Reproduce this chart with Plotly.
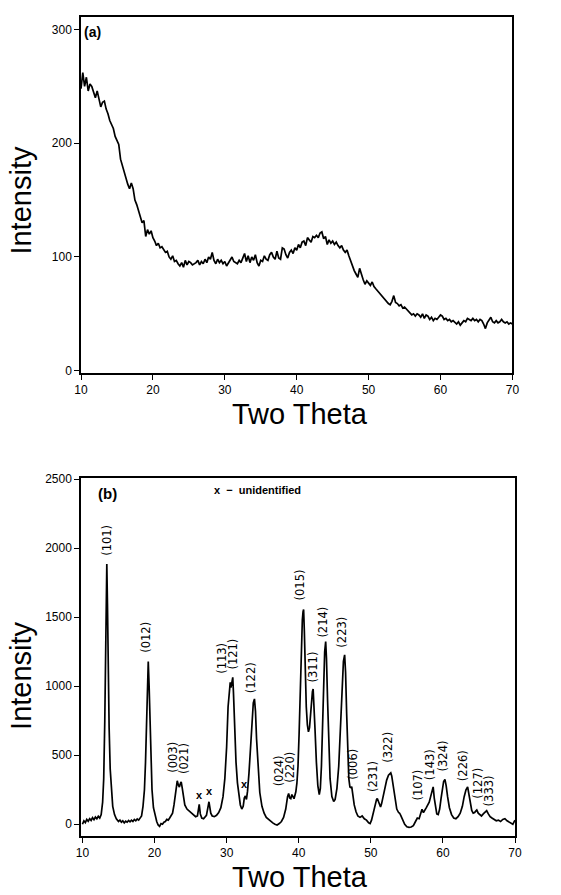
import plotly.graph_objects as go

# ---------------- Panel (a): amorphous sample ----------------
a_start = 10.0
a_step = 0.25
a_intensity = [
    248, 262, 250, 258,   # 10
    246, 252, 250, 244,   # 11
    240, 246, 238, 232,   # 12
    236, 237, 230, 226,   # 13
    220, 216, 213, 206,   # 14
    203, 199, 186, 180,   # 15
    174, 170, 164, 160,   # 16
    165, 160, 150, 146,   # 17
    140, 136, 130, 132,   # 18
    118, 124, 120, 123,   # 19
    117, 114, 110, 112,   # 20
    108, 109, 106, 104,   # 21
    105, 100, 98, 101,    # 22
    96, 97, 94, 92,       # 23
    95, 91, 97, 93,       # 24
    96, 95, 93, 94,       # 25
    95, 97, 93, 96,       # 26
    94, 98, 95, 100,      # 27
    98, 104, 97, 94,      # 28
    98, 95, 97, 94,       # 29
    96, 92, 95, 97,       # 30
    100, 96, 95, 94,      # 31
    97, 95, 99, 103,      # 32
    96, 101, 95, 100,     # 33
    97, 102, 95, 92,      # 34
    97, 96, 101, 98,      # 35
    97, 102, 104, 100,    # 36
    98, 105, 99, 98,      # 37
    108, 107, 102, 99,    # 38
    104, 106, 103, 108,   # 39
    106, 111, 108, 113,   # 40
    114, 110, 117, 115,   # 41
    113, 118, 117, 119,   # 42
    117, 121, 122, 116,   # 43
    118, 111, 115, 112,   # 44
    114, 111, 113, 110,   # 45
    108, 110, 106, 104,   # 46
    106, 101, 96, 92,     # 47
    88, 85, 82, 90,       # 48
    84, 80, 76, 79,       # 49
    77, 75, 78, 74,       # 50
    72, 70, 68, 67,       # 51
    65, 63, 61, 59,       # 52
    58, 61, 66, 60,       # 53
    59, 57, 58, 55,       # 54
    56, 54, 52, 51,       # 55
    49, 50, 48, 50,       # 56
    49, 47, 50, 46,       # 57
    49, 48, 45, 47,       # 58
    44, 46, 45, 47,       # 59
    49, 48, 45, 46,       # 60
    44, 45, 43, 44,       # 61
    42, 41, 43, 40,       # 62
    42, 44, 43, 46,       # 63
    45, 44, 46, 44,       # 64
    45, 43, 45, 44,       # 65
    41, 37, 42, 44,       # 66
    47, 43, 42, 44,       # 67
    42, 43, 45, 43,       # 68
    42, 43, 41, 42,       # 69
    41,                   # 70
]
a_theta = [a_start + a_step * i for i in range(len(a_intensity))]

# ---------------- Panel (b): crystalline sample ----------------
b_theta = [
    10.0, 10.2, 10.4, 10.6, 10.8, 11.0, 11.2, 11.4, 11.6, 11.8, 12.0, 12.2, 12.4, 12.6,
    12.8, 12.95, 13.1, 13.2, 13.3, 13.38, 13.47, 13.58, 13.7, 13.85, 14.0, 14.2, 14.45,
    14.7, 15.0, 15.2, 15.4, 15.6, 15.8, 16.0, 16.2, 16.4, 16.6, 16.8, 17.0, 17.2, 17.4, 17.6, 17.8, 18.0, 18.2,
    18.4, 18.6, 18.75, 18.9, 19.0, 19.13, 19.25, 19.38, 19.5, 19.65, 19.85, 20.1,
    20.3, 20.5, 20.7, 20.9, 21.1, 21.3, 21.5, 21.7, 21.9, 22.1, 22.3,
    22.5, 22.7, 22.9, 23.05, 23.15, 23.3, 23.45, 23.6, 23.7, 23.85, 24.0, 24.2, 24.5, 24.8, 25.1, 25.4, 25.7, 25.95,
    26.05, 26.2, 26.35, 26.55, 26.8, 27.0, 27.2, 27.4, 27.55, 27.65, 27.8, 28.0, 28.3, 28.6, 28.9,
    29.2, 29.5, 29.75, 30.0, 30.2, 30.4, 30.5, 30.6, 30.7, 30.85, 30.95, 31.1, 31.3, 31.5, 31.7, 31.9,
    32.1, 32.3, 32.45, 32.6, 32.75, 32.9, 33.1, 33.3, 33.5, 33.7, 33.86, 34.0, 34.15, 34.35, 34.6, 34.9, 35.2,
    35.5, 35.8, 36.1, 36.4, 36.7, 37.0, 37.3, 37.6, 37.9,
    38.2, 38.45, 38.6, 38.75, 38.9, 39.05, 39.2, 39.35, 39.5, 39.6, 39.75,
    39.9, 40.05, 40.2, 40.35, 40.5, 40.6, 40.68, 40.78, 40.9, 41.05, 41.2, 41.35,
    41.5, 41.65, 41.8, 41.9, 42.0, 42.1, 42.25, 42.45, 42.65, 42.85,
    43.0, 43.15, 43.3, 43.45, 43.6, 43.74, 43.85, 44.0, 44.15, 44.35, 44.6, 44.85,
    45.05, 45.3, 45.55, 45.8, 46.0, 46.2, 46.37, 46.5, 46.65, 46.8, 46.95, 47.1,
    47.25, 47.35, 47.5, 47.7, 47.95, 48.2, 48.5, 48.8, 49.1, 49.4, 49.7, 49.9,
    50.1, 50.35, 50.6, 50.8, 50.9, 51.05, 51.2, 51.35, 51.5, 51.7, 51.95, 52.2, 52.45, 52.65, 52.77, 52.9,
    53.1, 53.35, 53.6, 53.85, 54.0, 54.15,
    54.4, 54.7, 55.0, 55.3, 55.6, 55.9, 56.2, 56.45, 56.7, 56.9, 57.1, 57.3, 57.5, 57.7, 57.9, 58.1,
    58.3, 58.5, 58.65, 58.8, 58.95, 59.15, 59.35,
    59.55, 59.75, 59.95, 60.1, 60.28, 60.45, 60.65, 60.9, 61.2, 61.5, 61.8, 62.1,
    62.4, 62.7, 62.95, 63.2, 63.43, 63.6, 63.8, 64.0, 64.2, 64.4, 64.55, 64.7, 64.9, 65.1, 65.35,
    65.6, 65.85, 66.07, 66.3, 66.55, 66.8,
    67.1, 67.4, 67.7, 68.0, 68.3, 68.6, 68.9, 69.2, 69.5, 69.7, 69.85, 70.0,
]
b_intensity = [
    0, 25, 12, 35, 22, 40, 28, 48, 33, 52, 40, 58, 45, 70,
    160, 330, 750, 1150, 1600, 1885, 1600, 1100, 700, 400, 250, 130, 70,
    40, 20, 30, 15, 25, 10, 22, 15, 28, 18, 30, 20, 35, 25, 38, 30, 45, 60,
    130, 250, 450, 800, 1050, 1179, 1000, 700, 450, 250, 120, 50,
    20, -5, -15, 5, 0, 15, 20, 35, 30, 45, 60,
    80, 140, 240, 305, 315, 285, 270, 298, 307, 260, 190, 140, 110, 95, 80, 65, 55, 60,
    100, 144, 75, 45, 40, 50, 65, 120, 163, 130, 80, 60, 55, 65, 85,
    120, 200, 330, 560, 850, 1000, 1028, 990, 1030, 1064, 950, 700, 450, 300, 200, 140,
    110, 130, 190, 205, 180, 240, 370, 560, 760, 880, 908, 820, 620, 400, 230, 130, 80,
    50, 35, 20, 10, 0, -5, 5, 20, 50,
    110, 200, 223, 190, 185, 215, 200, 185, 215, 235, 300,
    420, 650, 950, 1250, 1480, 1540, 1556, 1400, 1100, 850, 720, 670,
    700, 800, 930, 960, 980, 900, 700, 450, 280, 215,
    260, 420, 700, 1000, 1250, 1323, 1200, 900, 580, 330, 200, 165,
    180, 260, 420, 700, 950, 1180, 1227, 1100, 800, 500, 330, 270,
    265, 272, 210, 140, 90, 60, 50, 60, 40, 30, 10, 5,
    30, 80, 150, 180, 187, 160, 140, 125, 150, 200, 260, 320, 355, 365, 372, 350,
    270, 170, 110, 85, 80, 65,
    30, 0, -18, -22, -20, -10, 20, 45, 40, 70, 108, 85, 100, 120, 140, 160,
    200, 240, 271, 190, 120, 75, 70,
    110, 190, 270, 310, 324, 280, 200, 120, 70, 45, 40, 55,
    80, 130, 200, 250, 271, 220, 150, 100, 80, 85, 95, 103, 80, 70, 60,
    75, 90, 98, 75, 55, 45,
    35, 25, 30, 20, 35, 40, 25, 15, 5, 0, 15, 30,
]
assert len(b_theta) == len(b_intensity)

# Peak (Miller index) labels for panel (b)
peak_labels = ["(101)", "(012)", "(003)", "(021)", "(113)", "(121)", "(122)", "(024)", "(220)",
               "(015)", "(311)", "(214)", "(223)", "(006)", "(231)", "(322)", "(107)", "(143)",
               "(324)", "(226)", "(127)", "(333)"]
peak_label_theta = [13.4, 18.7, 22.45, 24.0, 29.25, 30.9, 33.4, 37.2, 38.75,
                    40.2, 41.95, 43.35, 46.0, 47.6, 50.3, 52.4, 56.6, 58.2,
                    59.95, 62.9, 64.75, 66.35]
peak_label_int = [2060, 1352, 483, 475, 1200, 1230, 1059, 387, 415,
                  1731, 1141, 1467, 1395, 435, 350, 555, 283, 435,
                  495, 427, 295, 243]

# Unidentified reflections
unid_theta = [26.2, 27.6, 32.5]
unid_int = [215, 238, 290]

x_ticks = [10, 20, 30, 40, 50, 60, 70]
a_yticks = [0, 100, 200, 300]
b_yticks = [0, 500, 1000, 1500, 2000, 2500]

FONT = "Liberation Sans, Arial, Helvetica, sans-serif"

fig = go.Figure()
fig.add_trace(go.Scatter(x=a_theta, y=a_intensity, mode="lines",
                         line=dict(color="black", width=1.7), xaxis="x", yaxis="y",
                         showlegend=False, hoverinfo="skip"))
fig.add_trace(go.Scatter(x=b_theta, y=b_intensity, mode="lines",
                         line=dict(color="black", width=1.7), xaxis="x2", yaxis="y2",
                         showlegend=False, hoverinfo="skip"))

axis_common = dict(showline=True, mirror=True, linecolor="black", linewidth=1.5,
                   ticks="outside", ticklen=5, tickwidth=1.2, tickcolor="black",
                   showgrid=False, zeroline=False,
                   tickfont=dict(family=FONT, size=12, color="black"))

fig.update_layout(
    width=561, height=895,
    margin=dict(l=81, r=46, t=13, b=59),
    paper_bgcolor="white", plot_bgcolor="white",
    xaxis=dict(domain=[0, 0.994], range=[10, 70], tickvals=x_ticks, anchor="y", **axis_common),
    yaxis=dict(domain=[0.5654, 1], range=[-2, 311], tickvals=a_yticks, anchor="x", **axis_common),
    xaxis2=dict(domain=[0.0, 1], range=[9.8, 70], tickvals=x_ticks, anchor="y2", **axis_common),
    yaxis2=dict(domain=[0, 0.4374], range=[-85, 2510], tickvals=b_yticks, anchor="x2", **axis_common),
)

ann = []
title_font = dict(family=FONT, size=29, color="black")
ann.append(dict(text="Intensity", xref="paper", yref="paper", x=-0.138, y=0.776,
                textangle=-90, showarrow=False, font=title_font, xanchor="center", yanchor="middle"))
ann.append(dict(text="Intensity", xref="paper", yref="paper", x=-0.138, y=0.1956,
                textangle=-90, showarrow=False, font=title_font, xanchor="center", yanchor="middle"))
ann.append(dict(text="Two Theta", xref="paper", yref="paper", x=0.505, y=0.515,
                showarrow=False, font=title_font, xanchor="center", yanchor="middle"))
ann.append(dict(text="Two Theta", xref="paper", yref="paper", x=0.505, y=-0.0498,
                showarrow=False, font=title_font, xanchor="center", yanchor="middle"))

ann.append(dict(text="<b>(a)</b>", xref="x", yref="y", x=10.2, y=298, showarrow=False,
                xanchor="left", yanchor="middle", font=dict(family=FONT, size=14, color="black")))
ann.append(dict(text="<b>(b)</b>", xref="x2", yref="y2", x=11.9, y=2396, showarrow=False,
                xanchor="left", yanchor="middle", font=dict(family=FONT, size=15, color="black")))
ann.append(dict(text="<b>x  \u2212  unidentified</b>", xref="x2", yref="y2", x=28.0, y=2423,
                showarrow=False, xanchor="left", yanchor="middle",
                font=dict(family=FONT, size=11, color="black")))

for t, x, y in zip(peak_labels, peak_label_theta, peak_label_int):
    ann.append(dict(text=t, xref="x2", yref="y2", x=x, y=y, textangle=-90, showarrow=False,
                    xanchor="center", yanchor="middle",
                    font=dict(family="DejaVu Sans", size=11.5, color="black")))
for x, y in zip(unid_theta, unid_int):
    ann.append(dict(text="<b>x</b>", xref="x2", yref="y2", x=x, y=y, showarrow=False,
                    xanchor="center", yanchor="middle",
                    font=dict(family=FONT, size=11, color="black")))

fig.update_layout(annotations=ann)
fig.write_html("out.html", config={"displayModeBar": False},
               post_script="document.body.style.margin='0';document.body.style.padding='0';")
